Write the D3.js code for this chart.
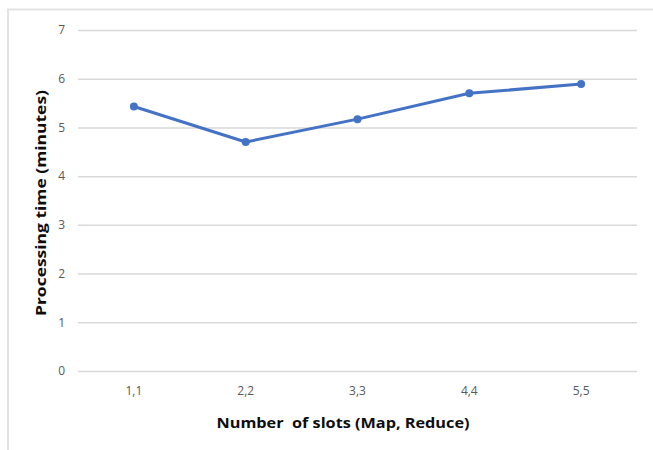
<!DOCTYPE html>
<html>
<head>
<meta charset="utf-8">
<script src="https://cdn.jsdelivr.net/npm/d3@7"></script>
<style>
  html, body { margin: 0; padding: 0; background: #fff; }
  svg { display: block; }
</style>
</head>
<body>
<svg id="chart" width="653" height="450"></svg>
<script>
// Processing time per slot configuration
const categories = ["1,1", "2,2", "3,3", "4,4", "5,5"];
const processingTimes = [5.43, 4.70, 5.17, 5.70, 5.89];
const yTicks = [0, 1, 2, 3, 4, 5, 6, 7];
const xTitle = "Number\u00a0\u00a0of slots (Map, Reduce)";
const yTitle = "Processing time (minutes)";

const svg = d3.select("#chart");
const W = 653, H = 450;
const margin = { left: 78, right: 16, top: 30, bottom: 79 };
const font = "'Open Sans', Lato, sans-serif";

// outer chart frame (clipped by the page edges on right and bottom)
svg.append("rect")
  .attr("x", 8).attr("y", 9.5)
  .attr("width", 700).attr("height", 500)
  .attr("fill", "#fff")
  .attr("stroke", "#e3e3e3")
  .attr("stroke-width", 2);

const x = d3.scaleBand()
  .domain(categories)
  .range([margin.left, W - margin.right])
  .paddingInner(0).paddingOuter(0);

const y = d3.scaleLinear()
  .domain([0, 7])
  .range([H - margin.bottom, margin.top]);

// horizontal gridlines
const yAxis = d3.axisLeft(y)
  .tickValues(yTicks)
  .tickSize(-(W - margin.right - margin.left))
  .tickPadding(13)
  .tickFormat(d3.format("d"));

const gy = svg.append("g")
  .attr("transform", `translate(${margin.left},0)`)
  .call(yAxis);
gy.select(".domain").remove();
gy.selectAll(".tick line")
  .attr("stroke", "#d9d9d9")
  .attr("stroke-width", 1.5);
gy.selectAll(".tick text")
  .attr("fill", "#595959")
  .style("font-family", font)
  .style("font-size", "12px");

// category axis (labels only)
const xAxis = d3.axisBottom(x).tickSize(0).tickPadding(15);
const gx = svg.append("g")
  .attr("transform", `translate(0,${H - margin.bottom})`)
  .call(xAxis);
gx.select(".domain").remove();
gx.selectAll(".tick text")
  .attr("fill", "#595959")
  .style("font-family", font)
  .style("font-size", "12px");

const cx = d => x(d) + x.bandwidth() / 2;
const series = categories.map((c, i) => ({ c, v: processingTimes[i] }));

// series line
svg.append("path")
  .datum(series)
  .attr("fill", "none")
  .attr("stroke", "#4472c4")
  .attr("stroke-width", 3)
  .attr("stroke-linejoin", "round")
  .attr("d", d3.line().x(d => cx(d.c)).y(d => y(d.v)));

// markers
svg.selectAll("circle.pt")
  .data(series)
  .join("circle")
  .attr("class", "pt")
  .attr("cx", d => cx(d.c))
  .attr("cy", d => y(d.v))
  .attr("r", 4)
  .attr("fill", "#4472c4");

// axis titles
svg.append("text")
  .attr("x", 343)
  .attr("y", 424)
  .attr("text-anchor", "middle")
  .attr("dominant-baseline", "middle")
  .attr("fill", "#0d0d0d")
  .style("font-family", font)
  .style("font-weight", "bold")
  .style("font-size", "15px")
  .attr("textLength", 253)
  .attr("lengthAdjust", "spacingAndGlyphs")
  .text(xTitle);

svg.append("text")
  .attr("transform", "translate(42,203) rotate(-90)")
  .attr("text-anchor", "middle")
  .attr("dominant-baseline", "middle")
  .attr("fill", "#0d0d0d")
  .style("font-family", font)
  .style("font-weight", "bold")
  .style("font-size", "15px")
  .attr("textLength", 226)
  .attr("lengthAdjust", "spacingAndGlyphs")
  .text(yTitle);
</script>
</body>
</html>
